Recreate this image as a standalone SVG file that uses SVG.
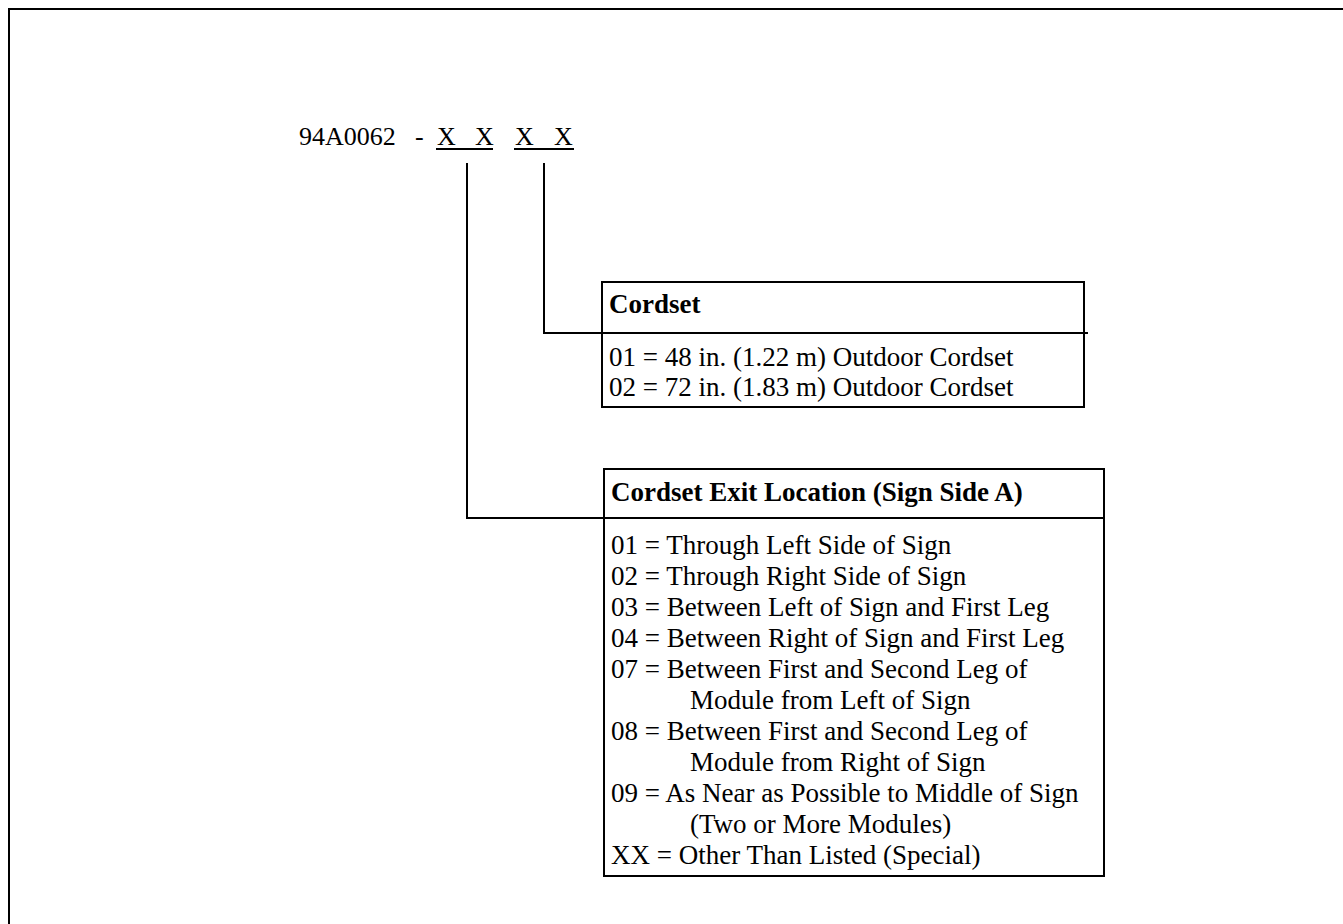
<svg xmlns="http://www.w3.org/2000/svg" width="1343" height="924" viewBox="0 0 1343 924">
<style>
text{font-family:"Liberation Serif","Times New Roman",serif;font-size:27px;fill:#000}
.h{font-size:26px}
.b{font-weight:bold}
.ln{stroke:#000;stroke-width:2;fill:none}
</style>
<rect x="0" y="0" width="1343" height="924" fill="#fff"/>
<rect x="9" y="9" width="1400" height="1000" class="ln"/>
<g id="header">
<text x="299" y="145" class="h">94A0062</text>
<text x="415" y="145" class="h">-</text>
<text x="437" y="145" class="h">X</text>
<text x="475" y="145" class="h">X</text>
<text x="515" y="145" class="h">X</text>
<text x="554" y="145" class="h">X</text>
<line x1="436" y1="149" x2="493" y2="149" class="ln"/>
<line x1="514" y1="149" x2="574" y2="149" class="ln"/>
</g>
<g id="connectors">
<polyline points="544,163 544,333 1088,333" class="ln"/>
<polyline points="467,163 467,518 604,518" class="ln"/>
</g>
<g id="cordset">
<rect x="602" y="282" width="482" height="125" class="ln"/>
<text x="609" y="313" class="b">Cordset</text>
<text x="609" y="366">01 = 48 in. (1.22 m) Outdoor Cordset</text>
<text x="609" y="396">02 = 72 in. (1.83 m) Outdoor Cordset</text>
</g>
<g id="exit">
<rect x="604" y="469" width="500" height="407" class="ln"/>
<line x1="604" y1="518" x2="1104" y2="518" class="ln"/>
<text x="611" y="501" class="b">Cordset Exit Location (Sign Side A)</text>
<text x="611" y="554">01 = Through Left Side of Sign</text>
<text x="611" y="585">02 = Through Right Side of Sign</text>
<text x="611" y="616">03 = Between Left of Sign and First Leg</text>
<text x="611" y="647">04 = Between Right of Sign and First Leg</text>
<text x="611" y="678">07 = Between First and Second Leg of</text>
<text x="690" y="709">Module from Left of Sign</text>
<text x="611" y="740">08 = Between First and Second Leg of</text>
<text x="690" y="771">Module from Right of Sign</text>
<text x="611" y="802">09 = As Near as Possible to Middle of Sign</text>
<text x="690" y="833">(Two or More Modules)</text>
<text x="611" y="864">XX = Other Than Listed (Special)</text>
</g>
</svg>
